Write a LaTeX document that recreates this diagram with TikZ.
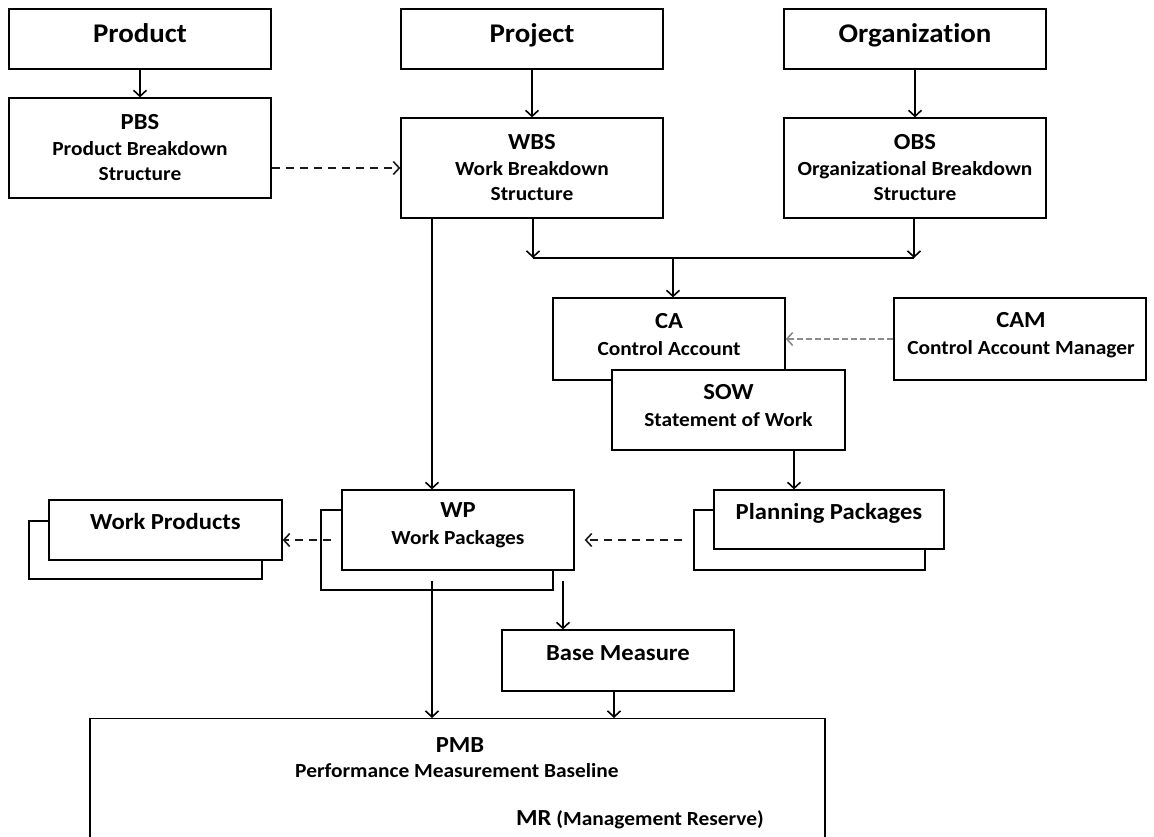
\documentclass[tikz,border=0pt]{standalone}
\usepackage{fontspec}
\setmainfont{Carlito}[FakeStretch=1.07, Ligatures=NoCommon]
\usetikzlibrary{arrows.meta}
\begin{document}
\begin{tikzpicture}[x=1pt,y=-1pt,
  box/.style={draw, line width=1.3pt, fill=white, inner sep=0pt, align=center},
  ttlbox/.style={box, minimum width=262pt, minimum height=60pt,
    font=\bfseries\fontsize{27}{32}\selectfont, text height=19pt, text depth=11.6pt},
  hdbox/.style={box, font=\bfseries\fontsize{20}{25}\selectfont},
  onebox/.style={box, font=\bfseries\fontsize{23}{27}\selectfont, text height=17pt, text depth=18pt},
  txt/.style={align=center, inner sep=0pt, font=\bfseries\fontsize{20}{25}\selectfont},
  arr/.style={line width=1.8pt, -{Straight Barb[length=6pt,width=13pt,line width=1.6pt]}},
  darr/.style={arr, line width=2pt, draw=black!90, dash pattern=on 8pt off 6pt},
  garr/.style={arr, draw=black!45, dash pattern=on 6pt off 3pt},
  big/.style={font=\bfseries\fontsize{23}{27}\selectfont},
  sub/.style={font=\bfseries\fontsize{20}{25}\selectfont},
]
\useasboundingbox (0,0) rectangle (1154,837);

% top row
\node[ttlbox] (product) at (140,39) {Product};
\node[ttlbox] (project) at (532,39) {Project};
\node[ttlbox] (org) at (915,39) {Organization};

% breakdown structures
\node[hdbox, minimum width=262pt, minimum height=100pt] (pbs) at (140,148)
  {{\fontsize{23}{27}\selectfont PBS}\\[1pt]Product Breakdown\\Structure};
\node[hdbox, minimum width=262pt, minimum height=100pt] (wbs) at (532,168)
  {{\fontsize{23}{27}\selectfont WBS}\\[1pt]Work Breakdown\\Structure};
\node[hdbox, minimum width=262pt, minimum height=100pt] (obs) at (915,168)
  {{\fontsize{23}{27}\selectfont OBS}\\[1pt]Organizational Breakdown\\Structure};

% control account
\node[box, minimum width=232pt, minimum height=82pt] (ca) at (669,339) {};
\node[txt] (cat) at (669,335) {{\fontsize{23}{27}\selectfont CA}\\[2pt]Control Account};
\node[box, minimum width=252pt, minimum height=82pt] (cam) at (1020,339) {};
\node[txt] (camt) at (1021,335) {{\fontsize{23}{27}\selectfont CAM}\\[2pt]Control Account Manager};
\node[box, minimum width=233pt, minimum height=80pt] (sow) at (728.5,410) {};
\node[txt] (sowt) at (728.5,405.5) {{\fontsize{23}{27}\selectfont SOW}\\[2pt]Statement of Work};

% planning packages
\node[box, minimum width=231pt, minimum height=60pt] (ppback) at (809.5,540) {};
\node[onebox, minimum width=230pt, minimum height=59pt] (pp) at (829,519.5) {Planning Packages};

% work packages
\node[box, minimum width=232pt, minimum height=80pt] (wpback) at (437,550) {};
\node[box, minimum width=232pt, minimum height=80pt] (wp) at (458,530) {};
\node[txt] (wpt) at (458,525) {{\fontsize{23}{27}\selectfont WP}\\[2pt]Work Packages};

% work products
\node[box, minimum width=233pt, minimum height=58pt] (wprodback) at (145.5,550) {};
\node[onebox, minimum width=233pt, minimum height=60pt] (wprod) at (165.5,530) {Work Products};

% base measure
\node[onebox, minimum width=232pt, minimum height=61pt] (bm) at (618,660.5) {Base Measure};

% PMB
\node[box, minimum width=735pt, minimum height=160pt, anchor=north] (pmb) at (457.5,718) {};
\node[big] (pmbt) at (460,745) {PMB};
\node[sub] (pmbs) at (457,771) {Performance Measurement Baseline};
\node[sub] (mr) at (640,820) {{\fontsize{23}{27}\selectfont MR} (Management Reserve)};

% junction coordinates
\coordinate (jl) at (533,258);
\coordinate (jr) at (914,258);
\coordinate (jm) at (673,258);
\coordinate (wx) at (432,0);
\coordinate (sx) at (794,0);
\coordinate (px) at (432,0);
\coordinate (bx) at (563,0);
\coordinate (mx) at (614,0);

% connectors
\draw[arr] (product) -- (pbs);
\draw[arr] (project) -- (wbs);
\draw[arr] (org) -- (obs);
\draw[darr] (pbs.east |- wbs.west) -- (wbs.west);
\draw[arr] (wbs.south -| jl) -- (jl);
\draw[arr] (obs.south -| jr) -- (jr);
\draw[line width=2.2pt] (jl) -- (jr);
\draw[arr] (jm) -- (jm |- ca.north);
\draw[garr] (cam.west) -- (ca.east);
\draw[arr] (wbs.south -| wx) -- (wp.north -| wx);
\draw[arr] (sow.south -| sx) -- (pp.north -| sx);
\draw[darr, shorten <=11pt, shorten >=10pt] (ppback.west) -- (wp.east |- ppback.west);
\draw[darr, shorten <=10pt] ([yshift=-10pt]wp.west) -- ([yshift=-10pt]wprod.east);
\draw[arr] ([yshift=-10pt]wp.south -| px) -- (pmb.north -| px);
\draw[arr] ([yshift=-10pt]wp.south -| bx) -- (bm.north -| bx);
\draw[arr] (bm.south -| mx) -- (pmb.north -| mx);
\end{tikzpicture}
\end{document}
